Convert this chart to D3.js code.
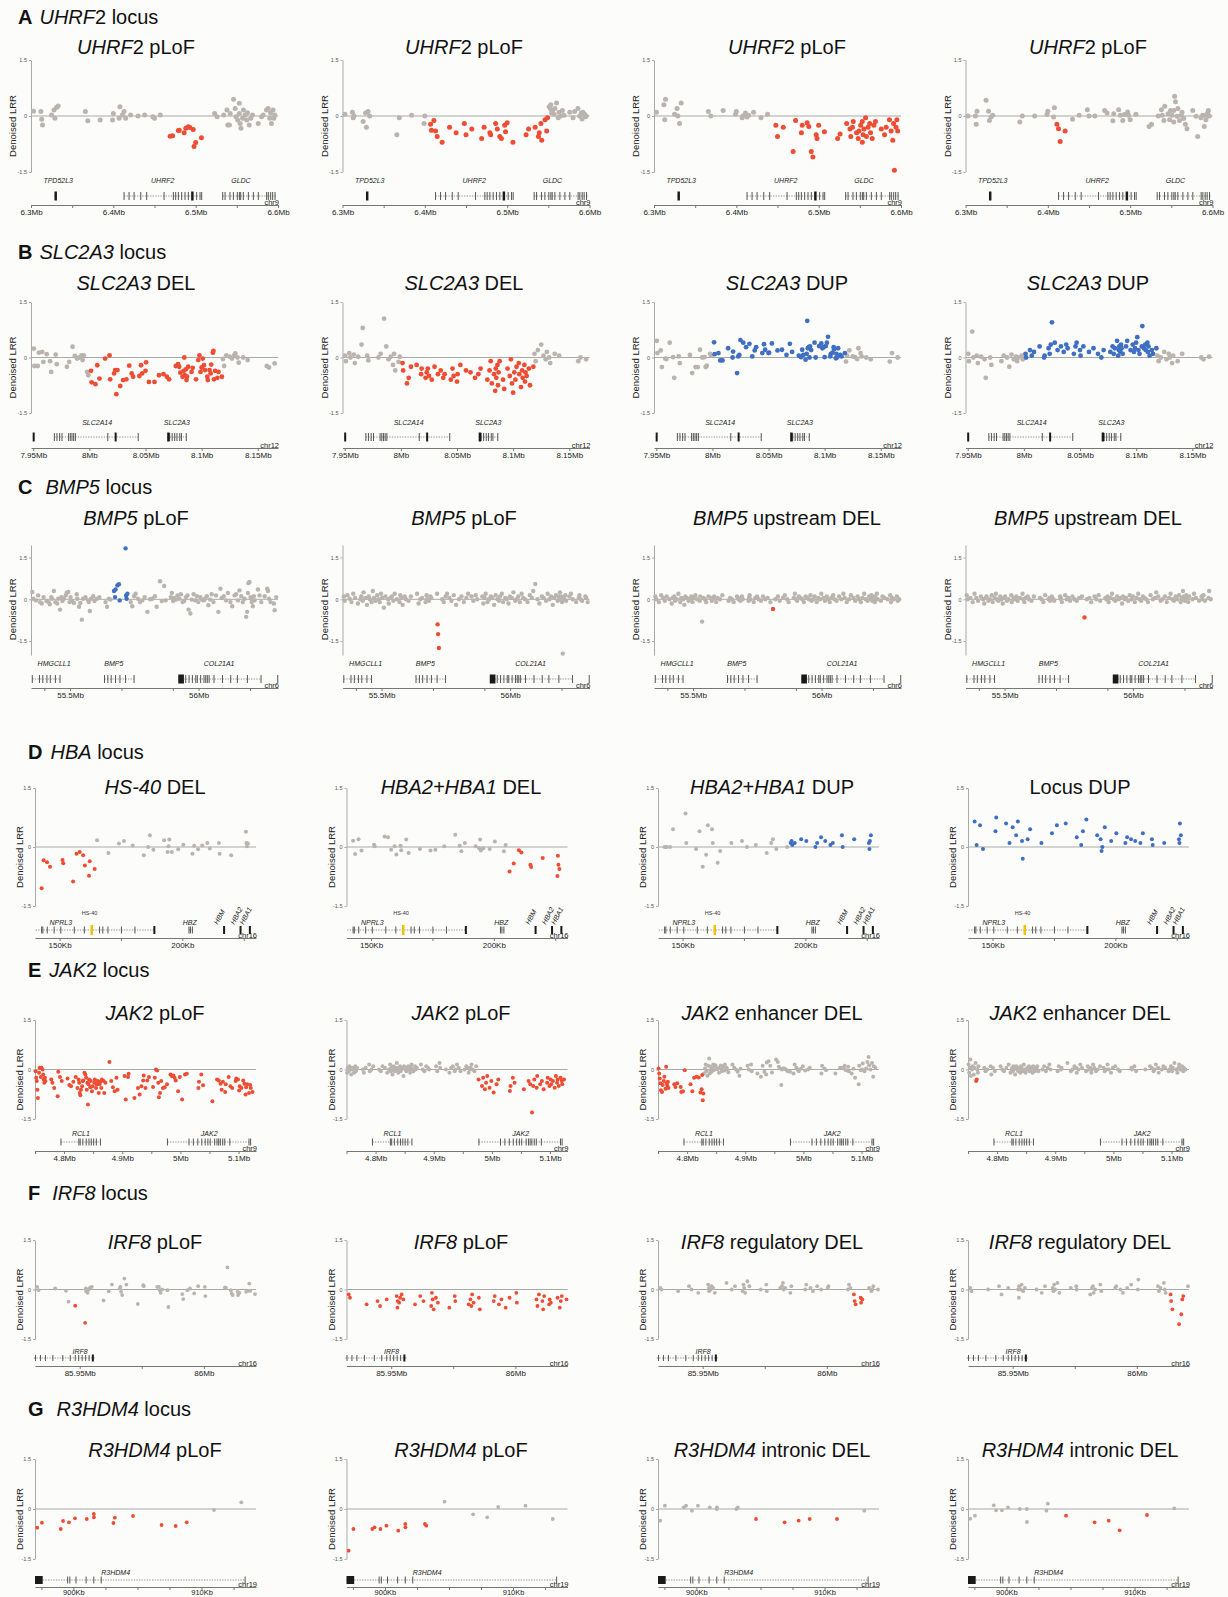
<!DOCTYPE html>
<html>
<head>
<meta charset="utf-8">
<title>CNV loci</title>
<script src="https://cdn.jsdelivr.net/npm/d3@7"></script>
<style>
  html, body { margin: 0; background: #fcfcfa; }
  svg { display: block; }
</style>
</head>
<body>
<svg id="chart" width="1228" height="1597"></svg>
<script>
// ---------- data ----------
const sectionLetters = ['A', 'B', 'C', 'D', 'E', 'F', 'G'];
const sectionGenes = [['UHRF', '2 locus'], ['SLC2A3', ' locus'], ['BMP5', ' locus'], ['HBA', ' locus'],
  ['JAK', '2 locus'], ['IRF8', ' locus'], ['R3HDM4', ' locus']];

// A: UHRF2 locus (Mb)
const aDomain = [6.3, 6.6];
const aTicks = [6.3, 6.35, 6.4, 6.45, 6.5, 6.55, 6.6];
const aTickLabels = ['6.3Mb', '', '6.4Mb', '', '6.5Mb', '', '6.6Mb'];
const aTitles = [['UHRF', '2 pLoF'], ['UHRF', '2 pLoF'], ['UHRF', '2 pLoF'], ['UHRF', '2 pLoF']];
const aCalls = [[6.468, 6.508, 'del'], [6.404, 6.549, 'del'], [6.445, 6.6, 'del'], [6.410, 6.422, 'del']];
const aProbes = [6.303, 6.312, 6.313, 6.314, 6.325, 6.328, 6.329, 6.331, 6.333, 6.366,
  6.369, 6.384, 6.399, 6.400, 6.407, 6.408, 6.411, 6.413, 6.415, 6.421,
  6.430, 6.438, 6.448, 6.450, 6.457, 6.469, 6.472, 6.479, 6.480, 6.486,
  6.488, 6.491, 6.493, 6.497, 6.498, 6.500, 6.507, 6.523, 6.526, 6.534,
  6.538, 6.539, 6.541, 6.542, 6.546, 6.548, 6.549, 6.551, 6.553, 6.553,
  6.554, 6.555, 6.557, 6.558, 6.560, 6.562, 6.563, 6.565, 6.567, 6.569,
  6.576, 6.580, 6.582, 6.586, 6.588, 6.590, 6.591, 6.592, 6.594, 6.595, 6.596];
const aLRR1 = [0.13, 0.12, -0.09, -0.24, 0.03, 0.16, -0.06, 0.23, 0.27, 0.12,
  -0.13, -0.11, -0.11, 0.07, -0.06, 0.25, 0.03, 0.12, -0.06, 0.03,
  0.00, 0.03, -0.02, -0.06, 0.03, -0.54, -0.53, -0.39, -0.38, -0.45,
  -0.33, -0.29, -0.31, -0.36, -0.82, -0.71, -0.58, 0.07, -0.02, 0.03,
  0.16, -0.24, -0.24, 0.07, 0.45, 0.20, -0.02, -0.11, 0.34, 0.07,
  -0.20, -0.33, -0.06, 0.16, 0.03, -0.11, 0.09, -0.24, -0.06, 0.03,
  -0.20, -0.02, 0.03, 0.16, 0.20, -0.06, 0.09, -0.20, 0.16, -0.06, 0.03];
const aLRR2 = [0.05, 0.10, -0.05, 0.00, -0.15, 0.08, -0.30, 0.12, 0.00, -0.50,
  -0.05, 0.02, -0.20, 0.00,
  -0.22, -0.38, -0.12, -0.40, -0.55, -0.70, -0.30, -0.45, -0.20, -0.50,
  -0.35, -0.60, -0.30, -0.45, -0.50, -0.20, -0.35, -0.55, -0.60, -0.25,
  -0.42, -0.18, -0.70, -0.50, -0.35, -0.30, -0.55, -0.45, -0.20, -0.65,
  -0.10, -0.40, -0.05,
  0.25, 0.18, 0.30, 0.08, 0.12, 0.05, 0.20, 0.35, -0.05, 0.10, 0.00, 0.15,
  0.02, 0.10, -0.05, 0.12, 0.20, 0.00, 0.08, -0.08, 0.10, 0.05, -0.02, 0.00];
const aLRR3 = [0.10, 0.30, -0.10, 0.45, 0.05, 0.20, 0.00, -0.20, 0.35, 0.12,
  0.00, 0.15, 0.05, 0.12, -0.05, 0.00, 0.08, -0.03, 0.02, 0.10, -0.05, 0.05,
  -0.25, -0.55, -0.30, -0.95, -0.12, -0.45, -0.25, -0.18, -0.28, -0.95,
  -1.10, -0.50, -0.60, -0.25, -0.42, -0.60, -0.48, -0.20, -0.35, -0.55,
  -0.30, -0.15, -0.45, -0.60, -0.40, -0.25, -0.70, -0.15, -0.50, -0.35,
  -0.05, -0.55, -0.30, -0.20, -0.45, -0.60, -0.25, -0.15, -0.35, -0.50,
  -0.30, -0.10, -0.40, -0.65, -0.20, -1.45, -0.30, -0.10, -0.40];
const aLRR4 = [0.00, 0.00, -0.22, 0.13, 0.42, 0.13, -0.12, -0.03, 0.02,
  -0.16, 0.00, 0.00, 0.04, 0.13,
  -0.03, 0.22, -0.22, -0.34, -0.68, -0.40, -0.09, 0.02,
  0.17, 0.00, 0.00, 0.15, 0.08, -0.13, 0.06, 0.17, 0.02, -0.12, 0.04, 0.11, 0.02, -0.10, 0.05,
  -0.28, -0.22, 0.00, 0.17, 0.02, -0.12, 0.26, 0.06, -0.10, 0.15,
  0.02, -0.16, 0.15, 0.53, 0.38, -0.01, 0.20, -0.12, 0.02, 0.10,
  -0.07, -0.22, -0.34, 0.15, -0.01, -0.55, -0.05, 0.02, -0.28, 0.02,
  -0.10, 0.08, 0.15, 0.00];
const aGenes = [
  { name: 'TPD52L3', start: 6.3285, end: 6.3315, exons: [], blocks: [[6.3285, 6.3315]], label: 6.333 },
  { name: 'UHRF2', start: 6.413, end: 6.507, exons: [6.413, 6.4191, 6.4252, 6.4333, 6.4405, 6.4616, 6.4729, 6.4757, 6.479, 6.483, 6.4871, 6.4911, 6.5012, 6.5053, 6.5073], blocks: [[6.4945, 6.4975]], label: 6.46 },
  { name: 'GLDC', start: 6.5328, end: 6.5984, exons: [6.5328, 6.5357, 6.5417, 6.5458, 6.5506, 6.5531, 6.5547, 6.5579, 6.564, 6.5701, 6.5761, 6.5862, 6.5883, 6.5911, 6.5935, 6.5964], blocks: [], label: 6.555 }
];

// B: SLC2A3 locus (Mb)
const bDomain = [7.948, 8.168];
const bTicks = [7.95, 8.0, 8.05, 8.1, 8.15];
const bTickLabels = ['7.95Mb', '8Mb', '8.05Mb', '8.1Mb', '8.15Mb'];
const bTitles = [['SLC2A3', ' DEL'], ['SLC2A3', ' DEL'], ['SLC2A3', ' DUP'], ['SLC2A3', ' DUP']];
const bCalls = [[8.0, 8.1185, 'del'], [8.0, 8.1185, 'del'], [8.0, 8.1185, 'dup'], [8.0, 8.1185, 'dup']];
const bProbes = [7.9505, 7.951, 7.954, 7.955, 7.958, 7.959, 7.962, 7.965, 7.966, 7.970,
  7.971, 7.980, 7.982, 7.985, 7.987, 7.989, 7.991, 7.993, 7.994, 7.995,
  7.998, 7.999, 8.0015, 8.002, 8.0054, 8.007, 8.009, 8.014, 8.018, 8.0185,
  8.022, 8.023, 8.024, 8.025, 8.0275, 8.030, 8.033, 8.0355, 8.0377, 8.039,
  8.0445, 8.046, 8.047, 8.050, 8.0505, 8.053, 8.058, 8.062, 8.066, 8.069,
  8.071, 8.077, 8.079, 8.080, 8.081, 8.083, 8.084, 8.0845, 8.085, 8.086,
  8.0865, 8.087, 8.088, 8.091, 8.092, 8.095, 8.097, 8.098, 8.099, 8.100,
  8.101, 8.102, 8.103, 8.105, 8.1055, 8.107, 8.108, 8.1085, 8.110, 8.1105,
  8.111, 8.112, 8.114, 8.115, 8.118, 8.119, 8.120, 8.122, 8.125, 8.127,
  8.129, 8.130, 8.132, 8.133, 8.137, 8.141, 8.158, 8.160, 8.165];
const bLRR1 = [0.24, -0.23, -0.23, 0.13, 0.15, -0.12, 0.09, -0.10, -0.39, 0.08,
  -0.18, -0.25, -0.12, 0.29, 0.04, -0.03, 0.00, 0.06, -0.07, 0.06, -0.39, -0.48,
  -0.36, -0.67, -0.72, -0.21, -0.57, -0.03, 0.06, -0.59, -0.43, -0.34,
  -0.99, -0.34, -0.77, -0.61, -0.59, -0.22, -0.43, -0.52, -0.50, -0.21,
  -0.43, -0.36, -0.13, -0.66, -0.66, -0.48, -0.45, -0.52, -0.59, -0.23,
  -0.18, -0.25, -0.41, -0.52, -0.36, 0.00, -0.48, -0.32, -0.61, -0.52,
  -0.25, -0.39, -0.28, -0.59, -0.07, 0.06, -0.39, -0.27, -0.03, -0.21,
  -0.34, -0.52, -0.61, -0.34, -0.43, -0.19, 0.13, 0.18, -0.59, -0.36,
  -0.55, -0.39, -0.52,
  -0.04, -0.23, 0.06, 0.02, -0.03, 0.06, 0.11, 0.00, -0.14, 0.00, -0.07, -0.23, -0.27, -0.16];
const bLRR2 = [0.05, -0.10, 0.12, 0.00, 0.08, -0.15, 0.02, 0.35, 0.80, 0.05,
  -0.08, 0.00, 0.10, 1.05, 0.30, -0.05, 0.02, -0.20, 0.10, -0.35, -0.12, 0.02,
  -0.15, -0.35, -0.70, -0.55, -0.25, -0.20, -0.45, -0.30, -0.55, -0.40,
  -0.30, -0.50, -0.60, -0.25, -0.45, -0.35, -0.55, -0.45, -0.60, -0.30,
  -0.50, -0.65, -0.45, -0.20, -0.35, -0.40, -0.55, -0.45, -0.30, -0.60,
  -0.35, -0.10, -0.70, -0.45, -0.90, -0.30, -0.55, -0.20, -0.75, -0.40,
  -0.10, -0.60, -0.85, -0.30, -0.50, -0.05, -0.70, -0.95, -0.40, -0.60,
  -0.25, -0.15, -0.45, -0.80, -0.35, -0.55, -0.20, -0.65, -0.40, -0.50,
  -0.30, -0.75, -0.25,
  0.10, -0.10, 0.20, 0.35, 0.05, -0.05, 0.15, 0.00, -0.15, 0.10, 0.05, -0.10, 0.00, -0.05];
const bLRR3 = [0.45, 0.12, 0.19, -0.26, -0.03, -0.04, 0.40, 0.01, -0.55, 0.03,
  -0.15, 0.07, -0.42, -0.26, -0.26, 0.21, 0.00, 0.01, -0.26, -0.22, 0.10, 0.05,
  0.41, 0.09, 0.12, -0.08, -0.08, 0.25, 0.00, 0.16, -0.42, 0.03,
  0.07, 0.47, 0.40, 0.28, 0.37, 0.03, 0.19, 0.28, 0.12, 0.36,
  0.21, 0.12, 0.13, 0.38, 0.19, 0.21, 0.07, 0.37, 0.15, 0.05,
  0.01, 0.21, 0.07, -0.06, 0.10, 0.99, 0.25, 0.28, 0.00, 0.30,
  0.20, 0.40, 0.00, 0.31, 0.38, 0.25, 0.28, 0.01, 0.31, 0.40,
  0.56, 0.03, 0.10, 0.13, 0.28, 0.22, -0.02, 0.10, 0.00, 0.25,
  0.07, 0.03, 0.12,
  -0.11, 0.05, 0.19, 0.03, 0.01, -0.04, 0.25, 0.12, 0.03, 0.00, -0.05, -0.11, 0.12, 0.00];
const bLRR4 = [0.10, -0.10, 0.70, 0.00, 0.05, -0.15, 0.02, -0.05, -0.55, 0.00,
  -0.20, -0.10, 0.05, 0.00, -0.25, 0.08, -0.05, 0.02, -0.10, 0.00, 0.05, -0.05,
  0.10, 0.00, 0.20, 0.05, 0.15, 0.30, 0.00, 0.05, 0.25, 0.10,
  0.35, 0.95, 0.40, 0.20, 0.30, 0.15, 0.35, 0.25, 0.10, 0.30,
  0.40, 0.20, 0.05, 0.30, 0.15, 0.25, 0.10, 0.00, 0.20, 0.15,
  0.30, 0.10, 0.25, 0.45, 0.05, 0.20, 0.30, 0.15, 0.35, 0.25,
  0.10, 0.30, 0.45, 0.20, 0.35, 0.15, 0.25, 0.40, 0.55, 0.20,
  0.10, 0.30, 0.85, 0.25, 0.35, 0.20, 0.40, 0.15, 0.30, 0.05,
  0.20, 0.10, 0.25,
  0.05, -0.10, 0.00, 0.15, -0.05, 0.10, 0.00, -0.15, 0.05, -0.10, 0.10, 0.00, -0.05, 0.02];
const bGenes = [
  { name: '', start: 7.9495, end: 7.9505, exons: [], blocks: [[7.9495, 7.9505]] },
  { name: 'SLC2A14', start: 7.9688, end: 8.0435, exons: [7.9688, 7.9711, 7.9735, 7.9756, 7.9815, 7.9830, 7.9845, 7.986, 7.9875, 8.0164, 8.0435], blocks: [[8.0225, 8.024]], label: 8.0069 },
  { name: 'SLC2A3', start: 8.0693, end: 8.0863, exons: [8.0715, 8.0737, 8.076, 8.078, 8.0805, 8.082, 8.0863], blocks: [[8.0693, 8.0715]], label: 8.0779 }
];

// C: BMP5 locus (Mb)
const cDomain = [55.348, 56.309];
const cTicks = [55.4, 55.5, 55.7, 55.9, 56.0, 56.2];
const cTickLabels = ['', '55.5Mb', '', '', '56Mb', ''];
const cTitles = [['BMP5', ' pLoF'], ['BMP5', ' pLoF'], ['BMP5', ' upstream DEL'], ['BMP5', ' upstream DEL']];
const cCalls = [[55.665, 55.725, 'dup'], [55.717, 55.724, 'del'], [55.810, 55.812, 'del'], [55.810, 55.812, 'del']];
const cProbes = [55.353, 55.357, 55.367, 55.376, 55.383, 55.390, 55.397, 55.408, 55.417, 55.421,
  55.427, 55.430, 55.437, 55.443, 55.450, 55.454, 55.461, 55.466, 55.470, 55.476,
  55.483, 55.487, 55.493, 55.498, 55.502, 55.509, 55.515, 55.526, 55.528, 55.535,
  55.540, 55.546, 55.551, 55.560, 55.570, 55.573, 55.577, 55.582, 55.590, 55.595,
  55.605, 55.614, 55.638, 55.644, 55.651, 55.658, 55.671, 55.675, 55.677, 55.684,
  55.690, 55.693, 55.716, 55.718, 55.720, 55.723, 55.736, 55.742, 55.749, 55.755,
  55.764, 55.772, 55.781, 55.790, 55.801, 55.811, 55.820, 55.830, 55.837, 55.850,
  55.857, 55.866, 55.872, 55.892, 55.896, 55.901, 55.905, 55.912, 55.918, 55.925,
  55.931, 55.938, 55.944, 55.951, 55.957, 55.961, 55.968, 55.973, 55.981, 55.987,
  55.994, 55.999, 56.007, 56.013, 56.020, 56.025, 56.032, 56.038, 56.045, 56.051,
  56.058, 56.068, 56.077, 56.085, 56.090, 56.098, 56.107, 56.114, 56.124, 56.131,
  56.140, 56.146, 56.153, 56.159, 56.166, 56.172, 56.179, 56.185, 56.189, 56.192,
  56.194, 56.198, 56.202, 56.205, 56.207, 56.211, 56.215, 56.218, 56.231, 56.237,
  56.244, 56.257, 56.267, 56.270, 56.274, 56.280, 56.293, 56.296, 56.302];
const cLRR1 = [0.26, 0.02, -0.04, 0.14, -0.10, -0.15, 0.08, -0.06, -0.10, -0.18,
  0.08, 0.02, 0.30, -0.10, -0.15, 0.02, -0.37, 0.08, -0.06, 0.02,
  0.14, 0.23, 0.26, -0.10, 0.08, -0.06, -0.13, 0.18, 0.02, -0.27,
  -0.13, -0.73, 0.02, 0.08, -0.04, -0.10, -0.42, 0.02, 0.11, -0.06,
  0.02, 0.08, -0.10, -0.27, 0.02, -0.01, 0.30, 0.08, 0.35, 0.50,
  0.54, -0.04, 1.83, 0.14, 0.02, 0.20, -0.10, -0.25, 0.11, 0.20,
  0.02, -0.10, -0.04, 0.08, -0.45, 0.00, 0.02, 0.11, -0.27, 0.65,
  -0.06, 0.48, -0.04, 0.08, 0.23, -0.06, 0.05, -0.01, 0.14, 0.02,
  0.18, -0.10, -0.06, 0.08, 0.14, -0.37, -0.51, -0.01, 0.18, -0.04,
  0.11, -0.10, 0.08, -0.01, -0.04, 0.02, 0.11, -0.21, -0.01, 0.18,
  -0.10, 0.14, -0.45, 0.38, 0.05, 0.11, -0.04, 0.23, -0.10, -0.25,
  0.14, 0.18, -0.04, 0.32, 0.11, -0.10, 0.02, -0.63, -0.45, 0.23,
  0.58, 0.62, 0.08, 0.02, -0.10, -0.25, 0.11, -0.04, 0.35, 0.14,
  -0.10, 0.11, 0.38, 0.30, 0.02, -0.10, -0.15, -0.39, 0.08];
const cLRR2 = [0.10, -0.05, 0.15, 0.02, -0.10, 0.20, 0.05, -0.15, 0.00, 0.10,
  -0.05, 0.25, 0.05, -0.20, 0.10, 0.00, -0.10, 0.30, 0.05, -0.05,
  0.15, 0.00, -0.10, 0.20, 0.05, -0.30, 0.10, 0.00, -0.15, 0.05,
  0.10, -0.05, 0.20, 0.00, -0.10, 0.15, 0.05, -0.20, 0.10, 0.00,
  -0.05, 0.10, 0.20, -0.15, 0.00, 0.05, -0.10, 0.15, 0.00, -0.05,
  0.10, 0.05, 0.20, -0.90, -1.25, -1.75, 0.00, -0.10, 0.10, 0.20,
  0.05, -0.05, 0.15, -0.20, 0.00, 0.10, -0.10, 0.05, 0.20, 0.10,
  -0.05, 0.15, 0.00, 0.10, -0.15, 0.05, 0.20, -0.10, 0.00, 0.10,
  0.05, -0.20, 0.15, 0.00, -0.05, 0.10, 0.20, -0.10, 0.05, 0.00,
  -0.15, 0.10, 0.05, 0.25, -0.05, 0.00, 0.10, -0.10, 0.20, 0.05,
  0.00, -0.10, 0.15, 0.05, 0.30, 0.55, 0.00, -0.15, 0.10, 0.05,
  -0.05, 0.20, 0.00, 0.10, -0.20, 0.05, 0.15, -0.05, 0.10, 0.00,
  0.25, 0.10, -0.10, -1.95, 0.05, 0.00, 0.15, -0.05, 0.10, 0.20,
  0.00, -0.10, 0.05, 0.15, 0.00, -0.05, 0.10, 0.05, -0.10];
const cLRR3 = [0.10, 0.00, -0.10, 0.15, 0.05, -0.05, 0.10, 0.00, -0.15, 0.05,
  0.10, -0.05, 0.00, 0.20, -0.10, 0.05, 0.00, -0.20, 0.10, 0.05,
  -0.05, 0.00, 0.10, -0.10, 0.05, 0.15, 0.00, -0.05, 0.10, -0.80,
  0.05, 0.00, -0.10, 0.10, 0.05, -0.05, 0.00, 0.10, -0.10, 0.05,
  0.00, 0.15, -0.05, 0.05, 0.00, -0.10, 0.10, 0.05, 0.00, -0.05,
  0.10, 0.00, -0.05, 0.05, 0.15, 0.00, -0.10, 0.05, 0.10, 0.00,
  -0.05, 0.10, 0.00, 0.05, -0.10, -0.35, 0.00, 0.10, -0.05, 0.05,
  0.15, 0.00, -0.10, 0.05, 0.20, 0.00, -0.05, 0.10, 0.05, 0.00,
  -0.10, 0.10, 0.05, 0.00, 0.15, -0.05, 0.00, 0.10, -0.10, 0.05,
  0.00, 0.20, 0.05, -0.05, 0.10, 0.00, -0.10, 0.05, 0.15, 0.00,
  -0.05, 0.10, 0.00, 0.20, 0.05, -0.10, 0.00, 0.15, 0.05, -0.05,
  0.10, 0.00, -0.10, 0.05, 0.20, 0.00, -0.05, 0.10, 0.05, 0.00,
  0.15, -0.05, 0.10, 0.00, -0.10, 0.05, 0.20, 0.00, -0.05, 0.10,
  0.05, 0.00, 0.15, -0.10, 0.05, 0.00, 0.10, -0.05, 0.00];
const cLRR4 = [0.15, 0.00, 0.05, -0.10, 0.20, 0.05, -0.05, 0.10, 0.00, -0.15,
  0.05, 0.10, -0.05, 0.00, 0.15, -0.10, 0.05, 0.20, 0.00, -0.05,
  0.10, 0.00, -0.15, 0.05, 0.10, -0.05, 0.00, 0.15, -0.10, 0.05,
  0.00, 0.10, -0.05, 0.05, 0.20, 0.00, -0.10, 0.05, 0.10, 0.00,
  -0.05, 0.10, 0.05, 0.00, -0.10, 0.15, 0.00, 0.05, -0.05, 0.10,
  0.00, -0.05, 0.10, 0.05, 0.00, -0.10, 0.15, 0.00, 0.05, -0.05,
  0.10, 0.00, -0.05, 0.05, 0.10, -0.65, 0.00, 0.05, -0.10, 0.10,
  0.00, 0.15, -0.05, 0.05, 0.00, 0.10, -0.10, 0.05, 0.20, 0.00,
  -0.05, 0.10, 0.00, 0.05, -0.15, 0.10, 0.00, 0.05, -0.05, 0.15,
  0.00, 0.10, -0.10, 0.05, 0.20, 0.00, -0.05, 0.10, 0.05, 0.00,
  -0.10, 0.15, 0.00, 0.05, 0.25, 0.10, -0.05, 0.00, 0.10, -0.10,
  0.05, 0.20, 0.00, -0.05, 0.10, 0.00, 0.15, -0.10, 0.05, 0.00,
  0.30, 0.10, -0.05, 0.00, 0.15, 0.05, -0.10, 0.10, 0.00, 0.20,
  0.05, -0.05, 0.10, 0.00, 0.15, -0.05, 0.05, 0.30, 0.00];
const cGenes = [
  { name: 'HMGCLL1', start: 55.353, end: 55.461, exons: [55.353, 55.381, 55.394, 55.41, 55.423, 55.443, 55.461], blocks: [], label: 55.438 },
  { name: 'BMP5', start: 55.634, end: 55.749, exons: [55.634, 55.647, 55.660, 55.677, 55.694, 55.716, 55.749], blocks: [], label: 55.670 },
  { name: 'COL21A1', start: 55.921, end: 56.243, exons: [55.950, 55.963, 55.976, 55.989, 55.995, 56.008, 56.021, 56.028, 56.034, 56.041, 56.060, 56.093, 56.125, 56.151, 56.190, 56.243], blocks: [[55.921, 55.943]], label: 56.080 },
  { name: '', start: 56.308, end: 56.308, exons: [56.308], blocks: [] }
];

// D: HBA locus (Kb)
const dDomain = [140, 230];
const dTicks = [150, 175, 200, 225];
const dTickLabels = ['150Kb', '', '200Kb', ''];
const dTitles = [['HS-40', ' DEL'], ['HBA2+HBA1', ' DEL'], ['HBA2+HBA1', ' DUP'], ['', 'Locus DUP']];
const dCalls = [[142, 164.5, 'del'], [205.5, 230, 'del'], [194, 230, 'dup'], [140, 230, 'dup']];
const dProbes = [142.7, 143.5, 144.9, 146.1, 151.2, 151.5, 155.5, 156.9, 158.2, 159.6,
  160.3, 162.0, 162.3, 164.3, 165.3, 169.9, 174.2, 176.2, 179.8, 184.3,
  186.1, 186.8, 188.2, 192.6, 194.0, 194.4, 194.7, 195.7, 198.3, 200.4,
  204.1, 204.8, 206.4, 208.1, 210.2, 211.2, 214.9, 215.2, 219.9, 225.9,
  226.1, 226.3, 226.7];
const dLRR1 = [-1.05, -0.34, -0.39, -0.50, -0.33, -0.41, -0.88, -0.17, -0.13, -0.21,
  -0.47, -0.73, -0.36, -0.56, 0.17, -0.15, 0.09, 0.15, 0.04, -0.21,
  0.00, 0.30, -0.07, 0.17, -0.13, 0.02, 0.19, -0.13, -0.06, 0.06,
  -0.17, 0.03, -0.06, 0.04, 0.10, -0.04, 0.10, -0.17, -0.21, 0.39,
  0.10, 0.02, 0.09];
const dLRR2 = [0.16, -0.18, 0.20, -0.09, 0.06, 0.02, 0.27, 0.25, -0.07, 0.02,
  -0.19, 0.03, -0.08, 0.19, -0.15, -0.05, -0.09, -0.07, 0.02, 0.31,
  0.03, -0.11, 0.10, 0.02, -0.03, 0.19, -0.09, -0.03, -0.05, 0.14,
  -0.11, 0.05, -0.62, -0.42, -0.08, -0.14, -0.45, -0.51, -0.28, -0.74,
  -0.22, -0.45, -0.56];
const dLRR3 = [0.00, 0.00, 0.00, 0.45, 0.85, 0.10, -0.05, 0.40, -0.50, -0.20,
  0.55, 0.45, 0.10, -0.40, -0.10, 0.10, 0.15, 0.00, 0.05, -0.15,
  0.10, 0.20, -0.05, 0.00, 0.10, 0.15, 0.05, 0.10, 0.20, 0.15,
  0.00, 0.10, 0.25, 0.15, 0.05, 0.10, 0.30, 0.00, 0.20, 0.10,
  -0.05, 0.15, 0.30];
const dLRR4 = [0.65, 0.05, 0.55, -0.05, 0.40, 0.75, 0.60, 0.10, 0.50, 0.30,
  0.65, 0.15, -0.30, 0.20, 0.45, 0.10, 0.35, 0.55, 0.60, 0.25,
  0.05, 0.40, 0.70, 0.30, 0.20, -0.10, 0.00, 0.50, 0.15, 0.35,
  0.10, 0.25, 0.20, 0.15, 0.10, 0.35, 0.20, 0.05, 0.10, 0.20,
  0.10, 0.60, 0.30];
const dGenes = [
  { name: 'NPRL3', start: 140.25, end: 188.6, exons: [142.7, 143.2, 145.0, 147.8, 150.5, 156.0, 160.1, 166.3, 167.6, 169.7, 175.2, 180.7], blocks: [[188.2, 188.9]], label: 150.5 },
  { name: 'HS-40', type: 'enhancer', start: 162.6, end: 163.6, label: 162.2 },
  { name: 'HBZ', start: 202.7, end: 204.2, exons: [202.7, 203.3, 204.1], blocks: [], label: 203.0 },
  { name: 'HBM', start: 216.6, end: 217.2, exons: [], blocks: [[216.6, 217.2]], label: 216.9 },
  { name: 'HBA2', start: 223.3, end: 223.9, exons: [], blocks: [[223.3, 223.9]], label: 223.6 },
  { name: 'HBA1', start: 227.1, end: 227.7, exons: [], blocks: [[227.1, 227.7]], label: 227.4 }
];

// E: JAK2 locus (Mb)
const eDomain = [4.75, 5.13];
const eTicks = [4.75, 4.8, 4.85, 4.9, 4.95, 5.0, 5.05, 5.1];
const eTickLabels = ['', '4.8Mb', '', '4.9Mb', '', '5Mb', '', '5.1Mb'];
const eTitles = [['JAK', '2 pLoF'], ['JAK', '2 pLoF'], ['JAK', '2 enhancer DEL'], ['JAK', '2 enhancer DEL']];
const eCalls = [[4.74, 5.14, 'del'], [4.975, 5.14, 'del'], [4.74, 4.8285, 'del'], [4.7635, 4.7655, 'del']];
const eProbes = [4.751, 4.752, 4.753, 4.754, 4.755, 4.757, 4.758, 4.760, 4.761, 4.763,
  4.764, 4.765, 4.766, 4.767, 4.768, 4.778, 4.780, 4.783, 4.789, 4.790,
  4.793, 4.796, 4.806, 4.809, 4.812, 4.816, 4.820, 4.823, 4.825, 4.826,
  4.827, 4.828, 4.829, 4.831, 4.832, 4.833, 4.835, 4.8365, 4.838, 4.839,
  4.840, 4.841, 4.842, 4.843, 4.845, 4.846, 4.848, 4.849, 4.852, 4.853,
  4.855, 4.856, 4.858, 4.8595, 4.861, 4.862, 4.864, 4.865, 4.868, 4.869,
  4.871, 4.878, 4.881, 4.884, 4.887, 4.890, 4.892, 4.904, 4.906, 4.910,
  4.911, 4.921, 4.927, 4.930, 4.933, 4.936, 4.937, 4.940, 4.943, 4.946,
  4.953, 4.956, 4.958, 4.960, 4.962, 4.963, 4.965, 4.967, 4.970, 4.973,
  4.977, 4.983, 4.985, 4.988, 4.990, 4.992, 4.996, 4.999, 5.003, 5.008,
  5.011, 5.031, 5.032, 5.036, 5.039, 5.055, 5.063, 5.066, 5.069, 5.071,
  5.073, 5.077, 5.078, 5.083, 5.086, 5.089, 5.095, 5.096, 5.099, 5.101,
  5.102, 5.105, 5.108, 5.110, 5.112, 5.113, 5.115, 5.118, 5.120, 5.121,
  5.124];
const eLRR1 = [-0.05, -0.25, -0.35, -0.61, -0.86, -0.10, 0.05, -0.23, 0.05, 0.00,
  -0.15, -0.30, -0.40, -0.25, -0.35,
  -0.30, -0.40, -0.56, -0.81, -0.07, -0.23, -0.35,
  -0.27, -0.47, -0.51, -0.37, -0.23, -0.56, -0.30, -0.40, -0.71, -0.78,
  -0.61, -0.51, -0.35, -0.33, -0.10, -0.15, -0.25, -0.61, -0.40, -1.06,
  -0.45, -0.30, -0.54, -0.35, -0.66, -0.51, -0.40, -0.30, -0.56, -0.45,
  -0.35, -0.71, -0.45, -0.37, -0.56, -0.30, -0.35, -0.71, -0.40,
  0.23, -0.35, -0.54, -0.66, -0.25, -0.61,
  -0.20, -0.91, -0.23, -0.13,
  -0.86, -0.56, -0.76, -0.51, -0.33, -0.18, -0.56, -0.33, -0.23,
  -0.53, -0.25, 0.00, -0.03, -0.40, -0.84, -0.71, -0.35, -0.56, -0.54, -0.45,
  -0.15, -0.20, -0.18, -0.25, -0.33, -0.66, -0.23, -0.91, -0.15, -0.13,
  -0.56, -0.37, -0.15, -0.48,
  -0.96, -0.30, -0.33, -0.43, -0.61, -0.37, -0.68, -0.45, -0.23, -0.51,
  -0.56, -0.35, -0.27, -0.30, -0.64, -0.51, -0.56, -0.33, -0.43, -0.76,
  -0.54, -0.45, -0.71, -0.47, -0.56, -0.68];
const eLRR2 = [-0.10, 0.05, 0.00, -0.05, 0.10, 0.00, -0.15, 0.05, 0.00, -0.10,
  0.05, 0.10, -0.05, 0.00, 0.05,
  0.00, -0.10, 0.05, 0.15, -0.05, 0.00, 0.10,
  0.00, -0.05, 0.10, 0.05, -0.10, 0.00, 0.15, -0.05, 0.05, 0.00,
  -0.15, 0.10, 0.00, -0.05, 0.05, 0.20, 0.00, -0.10, 0.05, 0.00,
  0.10, -0.05, 0.00, 0.05, -0.20, 0.10, 0.00, -0.05, 0.05, 0.10,
  0.00, -0.10, 0.05, 0.15, 0.00, -0.05, 0.10, 0.00, 0.05,
  0.15, 0.00, -0.05, 0.10, 0.05, 0.00,
  0.10, -0.05, 0.20, 0.05,
  0.00, -0.10, 0.05, 0.10, -0.05, 0.00, 0.15, 0.05, -0.05,
  0.00, 0.10, 0.05, -0.10, 0.00, 0.05, 0.15, 0.00, -0.05, 0.10,
  -0.30, -0.50, -0.25, -0.60, -0.40, -0.20, -0.55, -0.35, -0.70, -0.45,
  -0.30, -0.65, -0.50, -0.25, -0.40, -0.60, -0.35, -0.45, -1.30, -0.50,
  -0.30, -0.55, -0.20, -0.45, -0.35, -0.60, -0.40, -0.25, -0.50, -0.30,
  -0.45, -0.35, -0.55, -0.20, -0.40, -0.30, -0.50, -0.25, -0.35, -0.45, -0.30];
const eLRR3 = [0.03, -0.12, -0.27, -0.42, -0.63, -0.68, -0.47, -0.35, -0.22, -0.58,
  0.08, -0.42, -0.49, -0.37, -0.56, -0.45, -0.53, -0.42, -0.53, -0.68,
  -0.66, -0.02, -0.45, -0.66, -0.25, -0.22, -0.24, -0.70, -0.60, -0.17,
  -0.93, -0.73,
  -0.12, 0.03, 0.15, -0.05, -0.19, 0.11, 0.33, -0.12, -0.02, 0.08,
  -0.07, 0.03, 0.15, -0.02, 0.08, 0.13, 0.01, 0.03, -0.10, 0.05,
  0.12, -0.05, 0.00, 0.08, -0.03, 0.15, 0.05, 0.00, -0.08,
  0.15, 0.05, 0.00, -0.07, -0.19, 0.02,
  0.11, 0.00, 0.15, -0.05,
  -0.12, -0.22, 0.11, -0.07, -0.15, 0.21, 0.25, 0.11, -0.09,
  0.30, 0.23, 0.08, 0.03, -0.47, 0.00, 0.03, 0.03, 0.00, -0.05, -0.07,
  -0.12, 0.15, 0.05, 0.00, -0.05, 0.02, 0.10, -0.03, 0.00, 0.05,
  -0.12, 0.11, 0.03, -0.02,
  -0.12, 0.05, 0.05, 0.03, 0.11, -0.02, 0.08, -0.05, -0.12, 0.02,
  -0.25, -0.45, 0.11, -0.02, 0.00, 0.18, -0.05, 0.03, 0.23, 0.38,
  0.13, 0.00, 0.20, -0.22, 0.10, 0.05];
const eLRR4 = [0.15, -0.10, 0.05, 0.30, -0.20, 0.00, 0.10, -0.15, 0.05, 0.20,
  -0.35, -0.30, 0.00, -0.10, 0.10,
  0.05, -0.05, 0.00, 0.10, -0.15, 0.05, -0.05,
  0.10, 0.00, -0.05, 0.05, 0.15, -0.10, 0.00, 0.05, -0.05, 0.10,
  0.00, -0.15, 0.05, 0.10, 0.00, -0.05, 0.05, 0.00, -0.10, 0.10,
  0.05, 0.00, -0.05, 0.15, 0.00, -0.10, 0.05, 0.00, 0.10, -0.05,
  0.00, 0.05, -0.10, 0.10, 0.00, -0.05, 0.05, 0.10, -0.05,
  0.00, 0.10, -0.05, 0.05, 0.15, 0.00,
  -0.05, 0.10, 0.00, 0.05,
  0.20, -0.05, 0.00, 0.10, 0.05, -0.10, 0.00, 0.15, 0.05,
  -0.05, 0.10, 0.00, 0.05, -0.10, 0.00, 0.15, 0.05, -0.05, 0.00,
  0.10, 0.05, -0.05, 0.00, 0.15, 0.00, -0.10, 0.05, 0.10, 0.00, -0.05,
  0.05, 0.00, 0.10, -0.05,
  0.00, 0.10, 0.05, -0.05, 0.00, 0.15, 0.05, -0.10, 0.00, 0.10,
  0.05, -0.05, 0.00, 0.10, -0.05, 0.05, 0.20, 0.00, -0.10, 0.05,
  0.15, 0.00, 0.10, -0.05, 0.05, 0.00];
const eGenes = [
  { name: 'RCL1', start: 4.7946, end: 4.8625, exons: [4.7946, 4.8254, 4.8277, 4.8323, 4.8381, 4.8428, 4.8468, 4.8509, 4.8555, 4.8625], blocks: [], label: 4.829 },
  { name: 'JAK2', start: 4.9777, end: 5.1208, exons: [4.9777, 5.0148, 5.0223, 5.0299, 5.0368, 5.0426, 5.0473, 5.0513, 5.0589, 5.0629, 5.0658, 5.0687, 5.0728, 5.0763, 5.085, 5.118, 5.1208], blocks: [], label: 5.0496 }
];

// F: IRF8 locus (Mb)
const fDomain = [85.932, 86.021];
const fTicks = [85.95, 85.975, 86.0];
const fTickLabels = ['85.95Mb', '', '86Mb'];
const fTitles = [['IRF8', ' pLoF'], ['IRF8', ' pLoF'], ['IRF8', ' regulatory DEL'], ['IRF8', ' regulatory DEL']];
const fCalls = [[85.9478, 85.9523, 'del'], [85.93, 86.03, 'del'], [86.0105, 86.0145, 'del'], [86.0135, 86.019, 'del']];
const fProbes = [85.9329, 85.9334, 85.9401, 85.9445, 85.9455, 85.9482, 85.9522, 85.9525, 85.9526, 85.9532,
  85.9536, 85.9542, 85.9549, 85.9596, 85.9617, 85.9630, 85.9661, 85.9664, 85.9667, 85.9671,
  85.9680, 85.9688, 85.9734, 85.9756, 85.9758, 85.9812, 85.9819, 85.9823, 85.9826, 85.9832,
  85.9853, 85.9857, 85.9913, 85.9917, 85.9934, 85.9944, 85.9961, 85.9977, 86.0004, 86.0006,
  86.0085, 86.0089, 86.0095, 86.0109, 86.0112, 86.0116, 86.0136, 86.0138, 86.0143, 86.0170,
  86.0179, 86.0183, 86.0187, 86.0206];
const fLRR1 = [0.08, -0.02, 0.03, -0.04, -0.37, -0.49, -1.01, 0.03, -0.05, -0.10,
  0.00, 0.06, 0.08, -0.33, -0.05, 0.15, 0.03, 0.08, -0.07, -0.17,
  0.33, 0.15, -0.44, 0.13, 0.10, 0.08, 0.08, -0.02, -0.10, 0.00,
  -0.02, -0.53, -0.14, -0.29, -0.02, 0.03, -0.12, 0.10, 0.08, -0.20,
  0.06, 0.05, 0.67, -0.02, -0.12, -0.17, -0.07, -0.17, -0.10, -0.07,
  -0.04, 0.18, -0.04, -0.14];
const fLRR2 = [-0.15, -0.25, -0.45, -0.35, -0.50, -0.30, -0.20, -0.55, -0.35, -0.40,
  -0.25, -0.15, -0.30, -0.45, -0.20, -0.35, -0.50, -0.10, -0.30, -0.60,
  -0.25, -0.40, -0.55, -0.20, -0.35, -0.45, -0.30, -0.50, -0.15, -0.40,
  -0.25, -0.60, -0.35, -0.20, -0.45, -0.30, -0.55, -0.25, -0.10, -0.40,
  -0.30, -0.50, -0.15, -0.35, -0.60, -0.20, -0.45, -0.30, -0.40, -0.25,
  -0.55, -0.35, -0.20, -0.30];
const fLRR3 = [0.05, 0.00, -0.05, 0.10, 0.00, -0.10, 0.15, 0.05, -0.05, 0.00,
  0.10, 0.05, -0.10, 0.20, 0.00, 0.10, -0.05, 0.15, 0.05, -0.10,
  0.25, 0.10, 0.00, 0.15, -0.05, 0.05, 0.10, 0.20, 0.00, 0.05,
  -0.10, 0.10, 0.00, 0.15, 0.05, -0.05, 0.10, 0.00, 0.05, 0.10,
  0.00, 0.15, 0.05, -0.15, -0.35, -0.45, -0.25, -0.40, -0.30, 0.05,
  -0.05, 0.00, 0.10, 0.00];
const fLRR4 = [0.05, -0.05, 0.00, 0.10, -0.15, 0.05, 0.00, -0.25, 0.10, 0.00,
  0.15, -0.05, 0.05, 0.00, -0.10, 0.10, 0.05, -0.05, 0.15, 0.00,
  0.20, -0.10, 0.05, 0.10, 0.00, -0.15, 0.05, 0.10, -0.10, 0.00,
  0.15, -0.05, 0.05, 0.10, 0.00, -0.10, 0.05, 0.15, 0.00, 0.30,
  0.10, -0.05, 0.05, 0.20, 0.00, -0.10, -0.15, -0.35, -0.60, -1.05,
  -0.75, -0.30, -0.20, 0.10];
const fGenes = [
  { name: 'IRF8', start: 85.9315, end: 85.9565, exons: [85.9322, 85.9342, 85.9362, 85.9392, 85.9432, 85.9462, 85.9482, 85.9496, 85.951, 85.9524, 85.9538], blocks: [[85.9549, 85.9557]], label: 85.9502 }
];

// G: R3HDM4 locus (Kb)
const gDomain = [897, 914.25];
const gTicks = [897.5, 900, 902.5, 905, 907.5, 910, 912.5];
const gTickLabels = ['', '900Kb', '', '', '', '910Kb', ''];
const gTitles = [['R3HDM4', ' pLoF'], ['R3HDM4', ' pLoF'], ['R3HDM4', ' intronic DEL'], ['R3HDM4', ' intronic DEL']];
const gCalls = [[897, 909.5, 'del'], [897, 903.5, 'del'], [904, 911.5, 'del'], [904, 911.5, 'del']];
const gProbes = [897.17, 897.54, 899.01, 899.19, 899.65, 900.12, 901.04, 901.59, 901.60, 903.12,
  903.23, 904.65, 906.88, 907.98, 908.84, 910.97, 913.10];
const gLRR1 = [-0.56, -0.41, -0.60, -0.36, -0.40, -0.28, -0.30, -0.15, -0.25, -0.42,
  -0.26, -0.21, -0.48, -0.51, -0.40, -0.03, 0.20];
const gLRR2 = [-1.25, -0.60, -0.60, -0.55, -0.60, -0.50, -0.65, -0.45, -0.55, -0.45,
  -0.50, 0.22, -0.16, -0.25, 0.06, 0.10, -0.30];
const gLRR3 = [-0.35, 0.10, 0.05, 0.10, -0.05, 0.10, 0.05, 0.00, 0.05, 0.00,
  0.05, -0.30, -0.40, -0.35, -0.30, -0.30, -0.05];
const gLRR4 = [-0.29, -0.20, 0.11, -0.04, -0.04, 0.05, 0.00, 0.00, -0.39, -0.05,
  0.16, -0.20, -0.40, -0.35, -0.64, -0.18, 0.02];
const gGenes = [
  { name: 'R3HDM4', start: 897.0, end: 913.4, exons: [899.55, 899.72, 900.2, 900.99, 901.59, 902.17, 913.4], blocks: [[897.0, 897.6]], label: 903.3 }
];

// ---------- layout ----------
const FONT = 'Arial, "Liberation Sans", Helvetica, sans-serif';
const COLOR = { none: '#bab3ae', del: '#ee4c33', dup: '#3f6fc3' };
const wideLeft = [31, 342.5, 654, 965.5], narrowLeft = [35, 346.5, 658, 968];
const wideTitleX = [136, 464, 787, 1088], narrowTitleX = [155, 461, 772, 1080];
const letterGap = [7, 7, 13, 8, 8, 12, 13];
const tilted = new Set(['HBM', 'HBA2', 'HBA1']);

const rows = [
  { probes: aProbes, lrr: [aLRR1, aLRR2, aLRR3, aLRR4], calls: aCalls, titles: aTitles, genes: aGenes,
    domain: aDomain, ticks: aTicks, tickLabels: aTickLabels, chr: 'chr9', wide: true, yDomain: [-1.5, 1.5],
    sectionY: 17, titleY: 47, yTop: 60, yBot: 172, labelY: 180, trackY: 196, axisY: 205, r: 2.5, exonH: 8 },
  { probes: bProbes, lrr: [bLRR1, bLRR2, bLRR3, bLRR4], calls: bCalls, titles: bTitles, genes: bGenes,
    domain: bDomain, ticks: bTicks, tickLabels: bTickLabels, chr: 'chr12', wide: true, yDomain: [-1.5, 1.5],
    sectionY: 252, titleY: 283, yTop: 302, yBot: 413, labelY: 422, trackY: 437, axisY: 448, r: 2.4, exonH: 8 },
  { probes: cProbes, lrr: [cLRR1, cLRR2, cLRR3, cLRR4], calls: cCalls, titles: cTitles, genes: cGenes,
    domain: cDomain, ticks: cTicks, tickLabels: cTickLabels, chr: 'chr6', wide: true, yDomain: [-2, 1.95],
    sectionY: 487, titleY: 518, yTop: 545, yBot: 655, labelY: 663, trackY: 679, axisY: 688, r: 2.2, exonH: 8 },
  { probes: dProbes, lrr: [dLRR1, dLRR2, dLRR3, dLRR4], calls: dCalls, titles: dTitles, genes: dGenes,
    domain: dDomain, ticks: dTicks, tickLabels: dTickLabels, chr: 'chr16', wide: false, yDomain: [-1.5, 1.5],
    sectionY: 752, titleY: 787, yTop: 788, yBot: 906, labelY: 922, trackY: 930, axisY: 938, r: 2.0, exonH: 7 },
  { probes: eProbes, lrr: [eLRR1, eLRR2, eLRR3, eLRR4], calls: eCalls, titles: eTitles, genes: eGenes,
    domain: eDomain, ticks: eTicks, tickLabels: eTickLabels, chr: 'chr9', wide: false, yDomain: [-1.5, 1.5],
    sectionY: 970, titleY: 1013, yTop: 1020, yBot: 1119, labelY: 1133, trackY: 1142, axisY: 1151, r: 2.0, exonH: 7 },
  { probes: fProbes, lrr: [fLRR1, fLRR2, fLRR3, fLRR4], calls: fCalls, titles: fTitles, genes: fGenes,
    domain: fDomain, ticks: fTicks, tickLabels: fTickLabels, chr: 'chr16', wide: false, yDomain: [-1.5, 1.5],
    sectionY: 1193, titleY: 1242, yTop: 1240, yBot: 1339, labelY: 1351, trackY: 1358, axisY: 1366, r: 1.9, exonH: 6 },
  { probes: gProbes, lrr: [gLRR1, gLRR2, gLRR3, gLRR4], calls: gCalls, titles: gTitles, genes: gGenes,
    domain: gDomain, ticks: gTicks, tickLabels: gTickLabels, chr: 'chr19', wide: false, yDomain: [-1.5, 1.5],
    sectionY: 1409, titleY: 1450, yTop: 1459, yBot: 1559, labelY: 1572, trackY: 1580, axisY: 1587, r: 1.9, exonH: 7,
    tickPad: 0, tickFont: 7.5 }
];

const svg = d3.select('#chart').style('font-family', FONT);
svg.append('rect').attr('width', 1228).attr('height', 1597).attr('fill', '#fcfcfa');

function drawSection(row, i) {
  const t = svg.append('text')
    .attr('x', row.wide ? 18 : 28).attr('y', row.sectionY + 7)
    .attr('font-size', 20).attr('fill', '#111');
  t.append('tspan').attr('font-weight', 'bold').text(sectionLetters[i]);
  t.append('tspan').attr('dx', letterGap[i]).attr('font-style', 'italic').text(sectionGenes[i][0]);
  t.append('tspan').text(sectionGenes[i][1]);
}

function drawGenes(g, row, x) {
  const t = g.append('g');
  const h = row.exonH, ty = row.trackY;
  row.genes.forEach(gene => {
    if (gene.type === 'enhancer') {
      t.append('rect')
        .attr('x', x(gene.start)).attr('y', ty - 5)
        .attr('width', Math.max(2.5, x(gene.end) - x(gene.start))).attr('height', 10)
        .attr('fill', '#f3c300');
      t.append('text')
        .attr('x', x(gene.label)).attr('y', row.labelY - 7)
        .attr('text-anchor', 'middle').attr('font-size', 5.5).attr('fill', '#333')
        .text(gene.name);
      return;
    }
    if (gene.end > gene.start) {
      t.append('line')
        .attr('x1', x(gene.start)).attr('x2', x(gene.end)).attr('y1', ty).attr('y2', ty)
        .attr('stroke', '#666').attr('stroke-width', 0.7).attr('stroke-dasharray', '1.3 1.3');
    }
    t.selectAll(null).data(gene.exons).join('line')
      .attr('x1', d => x(d)).attr('x2', d => x(d))
      .attr('y1', ty - h / 2).attr('y2', ty + h / 2)
      .attr('stroke', '#444').attr('stroke-width', 0.9);
    t.selectAll(null).data(gene.blocks).join('rect')
      .attr('x', d => x(d[0])).attr('y', ty - h / 2 - 0.5)
      .attr('width', d => Math.max(2, x(d[1]) - x(d[0]))).attr('height', h + 1)
      .attr('fill', '#1a1a1a');
    if (!gene.name) return;
    if (tilted.has(gene.name)) {
      t.append('text')
        .attr('transform', `translate(${x(gene.label) - 6},${ty - 5}) rotate(-62)`)
        .attr('font-size', 7).attr('font-style', 'italic').attr('fill', '#222')
        .text(gene.name);
    } else {
      t.append('text')
        .attr('x', x(gene.label)).attr('y', row.labelY + 2.5)
        .attr('text-anchor', 'middle').attr('font-size', 7).attr('font-style', 'italic').attr('fill', '#222')
        .text(gene.name);
    }
  });
}

function drawPanel(row, col) {
  const left = (row.wide ? wideLeft : narrowLeft)[col];
  const width = row.wide ? 247 : 221;
  const x = d3.scaleLinear().domain(row.domain).range([left, left + width]);
  const y = d3.scaleLinear().domain(row.yDomain).range([row.yBot, row.yTop]);
  const g = svg.append('g');

  // panel title: italic gene part + plain rest
  const [it, rest] = row.titles[col];
  const title = g.append('text')
    .attr('x', (row.wide ? wideTitleX : narrowTitleX)[col]).attr('y', row.titleY + 7)
    .attr('text-anchor', 'middle').attr('font-size', 20).attr('fill', '#111');
  if (it) title.append('tspan').attr('font-style', 'italic').text(it);
  title.append('tspan').text(rest);

  const yAxis = g.append('g').attr('transform', `translate(${left},0)`)
    .call(d3.axisLeft(y).tickValues([-1.5, 0, 1.5]).tickSize(2).tickSizeOuter(0).tickPadding(2)
      .tickFormat(d => String(d)));
  yAxis.attr('font-family', FONT);
  yAxis.select('.domain').attr('stroke', '#a9a9a9');
  yAxis.selectAll('.tick line').attr('stroke', '#a9a9a9');
  yAxis.selectAll('.tick text').attr('font-size', 5.5).attr('fill', '#555');

  g.append('text')
    .attr('transform', `translate(${left - (row.wide ? 18 : 15)},${y(0) + 10}) rotate(-90)`)
    .attr('text-anchor', 'middle').attr('dy', '0.35em')
    .attr('font-size', 9.5).attr('fill', '#222')
    .text('Denoised LRR');

  g.append('line')
    .attr('x1', left).attr('x2', left + width).attr('y1', y(0)).attr('y2', y(0))
    .attr('stroke', '#a9a9a9').attr('stroke-width', 1);

  const [lo, hi, kind] = row.calls[col];
  const pts = row.probes.map((p, i) => ({ p, v: row.lrr[col][i], kind: p >= lo && p <= hi ? kind : 'none' }));
  pts.sort((a, b) => (a.kind !== 'none') - (b.kind !== 'none'));
  g.append('g').selectAll('circle').data(pts).join('circle')
    .attr('cx', d => x(d.p)).attr('cy', d => y(d.v)).attr('r', row.r)
    .attr('fill', d => COLOR[d.kind]);

  drawGenes(g, row, x);

  const xAxis = g.append('g').attr('transform', `translate(0,${row.axisY})`)
    .call(d3.axisBottom(x).tickValues(row.ticks).tickSize(3).tickSizeOuter(0)
      .tickPadding(row.tickPad ?? 1)
      .tickFormat((d, i) => row.tickLabels[i]));
  xAxis.attr('font-family', FONT);
  xAxis.select('.domain').attr('stroke', '#777');
  xAxis.selectAll('.tick line').attr('stroke', '#777');
  xAxis.selectAll('.tick text').attr('font-size', row.tickFont ?? 8).attr('fill', '#222');

  g.append('text')
    .attr('x', left + width + 1).attr('y', row.axisY)
    .attr('text-anchor', 'end').attr('font-size', 7.5).attr('fill', '#222')
    .text(row.chr);
}

rows.forEach((row, i) => {
  drawSection(row, i);
  for (let c = 0; c < 4; c++) drawPanel(row, c);
});
</script>
</body>
</html>
